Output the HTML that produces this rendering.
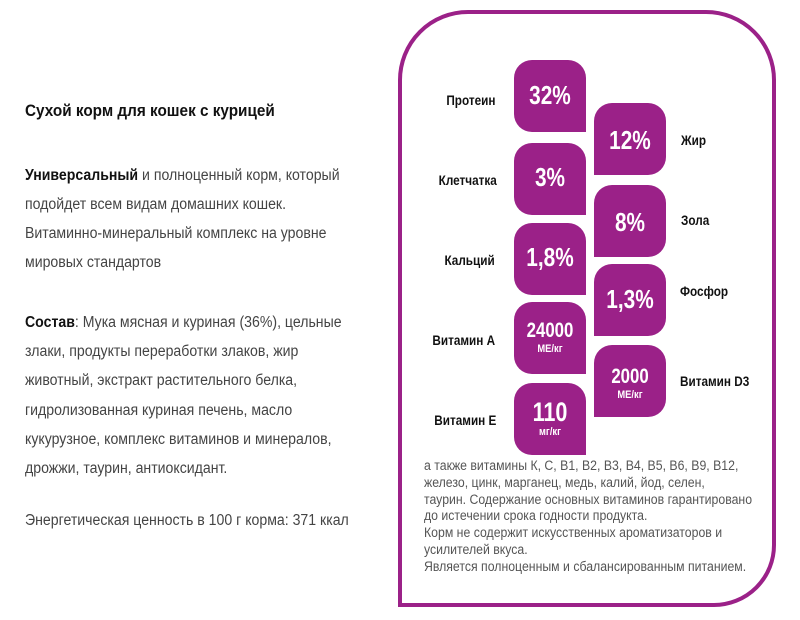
<!DOCTYPE html>
<html><head><meta charset="utf-8"><style>
body{margin:0;width:800px;height:620px;background:#fff;position:relative;overflow:hidden;font-family:"Liberation Sans",sans-serif}
.a{position:absolute;white-space:nowrap}
.c{transform:scaleX(0.91);transform-origin:0 50%}
.lt{font-size:15.5px;color:#444;left:25px}
.frame{position:absolute;left:398px;top:10px;width:370px;height:589px;border:4px solid #9b2188;border-radius:70px 70px 62px 0}
.t{position:absolute;width:72px;height:72px;background:#9b2188;color:#fff;text-align:center;font-weight:bold}
.L{left:514px;border-radius:18px 18px 0 18px}
.R{left:594px;border-radius:18px 18px 18px 0}
.t .v{position:absolute;left:0;right:0;font-size:26px;transform:scaleX(0.8)}
.t .u{position:absolute;left:0;right:0;font-size:11px;transform:scaleX(0.85)}
.lab{position:absolute;font-weight:bold;font-size:13.5px;color:#111;transform:scaleX(0.87);white-space:nowrap}
.lab.r{transform-origin:100% 50%;text-align:right}
.lab.l{transform-origin:0 50%}
.bt{position:absolute;left:424px;top:458px;font-size:13.5px;line-height:16.8px;color:#555;transform:scaleX(0.91);transform-origin:0 0;white-space:nowrap}
</style></head><body>
<div class="a" style="left:25px;top:101px;font-size:17px;font-weight:bold;color:#111;transform:scaleX(0.9);transform-origin:0 50%">Сухой корм для кошек с курицей</div>
<div class="a c lt" style="top:161px;line-height:29px">
<b style="color:#111">Универсальный</b> и полноценный корм, который<br>подойдет всем видам домашних кошек.<br>Витаминно-минеральный комплекс на уровне<br>мировых стандартов</div>
<div class="a c lt" style="top:308px;line-height:29.2px">
<b style="color:#111">Состав</b>: Мука мясная и куриная (36%), цельные<br>злаки, продукты переработки злаков, жир<br>животный, экстракт растительного белка,<br>гидролизованная куриная печень, масло<br>кукурузное, комплекс витаминов и минералов,<br>дрожжи, таурин, антиоксидант.</div>
<div class="a c lt" style="top:512px">Энергетическая ценность в 100 г корма: 371 ккал</div>

<div class="frame"></div>

<div class="t L" style="top:60px"><div class="v" style="top:20px">32%</div></div>
<div class="t L" style="top:143px"><div class="v" style="top:19px">3%</div></div>
<div class="t L" style="top:223px"><div class="v" style="top:19px">1,8%</div></div>
<div class="t L" style="top:302px"><div class="v" style="top:17px;font-size:21px">24000</div><div class="u" style="top:41px">МЕ/кг</div></div>
<div class="t L" style="top:383px"><div class="v" style="top:14px;font-size:27px">110</div><div class="u" style="top:43px">мг/кг</div></div>

<div class="t R" style="top:103px"><div class="v" style="top:22px">12%</div></div>
<div class="t R" style="top:185px"><div class="v" style="top:22px">8%</div></div>
<div class="t R" style="top:264px"><div class="v" style="top:20px">1,3%</div></div>
<div class="t R" style="top:345px"><div class="v" style="top:20px;font-size:21px">2000</div><div class="u" style="top:44px">МЕ/кг</div></div>

<div class="lab r" style="right:305px;top:93px">Протеин</div>
<div class="lab r" style="right:303px;top:173px">Клетчатка</div>
<div class="lab r" style="right:305px;top:253px">Кальций</div>
<div class="lab r" style="right:305px;top:333px">Витамин А</div>
<div class="lab r" style="right:304px;top:413px">Витамин Е</div>
<div class="lab l" style="left:681px;top:133px">Жир</div>
<div class="lab l" style="left:681px;top:213px">Зола</div>
<div class="lab l" style="left:680px;top:284px">Фосфор</div>
<div class="lab l" style="left:680px;top:374px">Витамин D3</div>

<div class="bt">а также витамины К, С, В1, В2, В3, В4, В5, В6, В9, В12,<br>железо, цинк, марганец, медь, калий, йод, селен,<br>таурин. Содержание основных витаминов гарантировано<br>до истечении срока годности продукта.<br>Корм не содержит искусственных ароматизаторов и<br>усилителей вкуса.<br>Является полноценным и сбалансированным питанием.</div>
</body></html>
